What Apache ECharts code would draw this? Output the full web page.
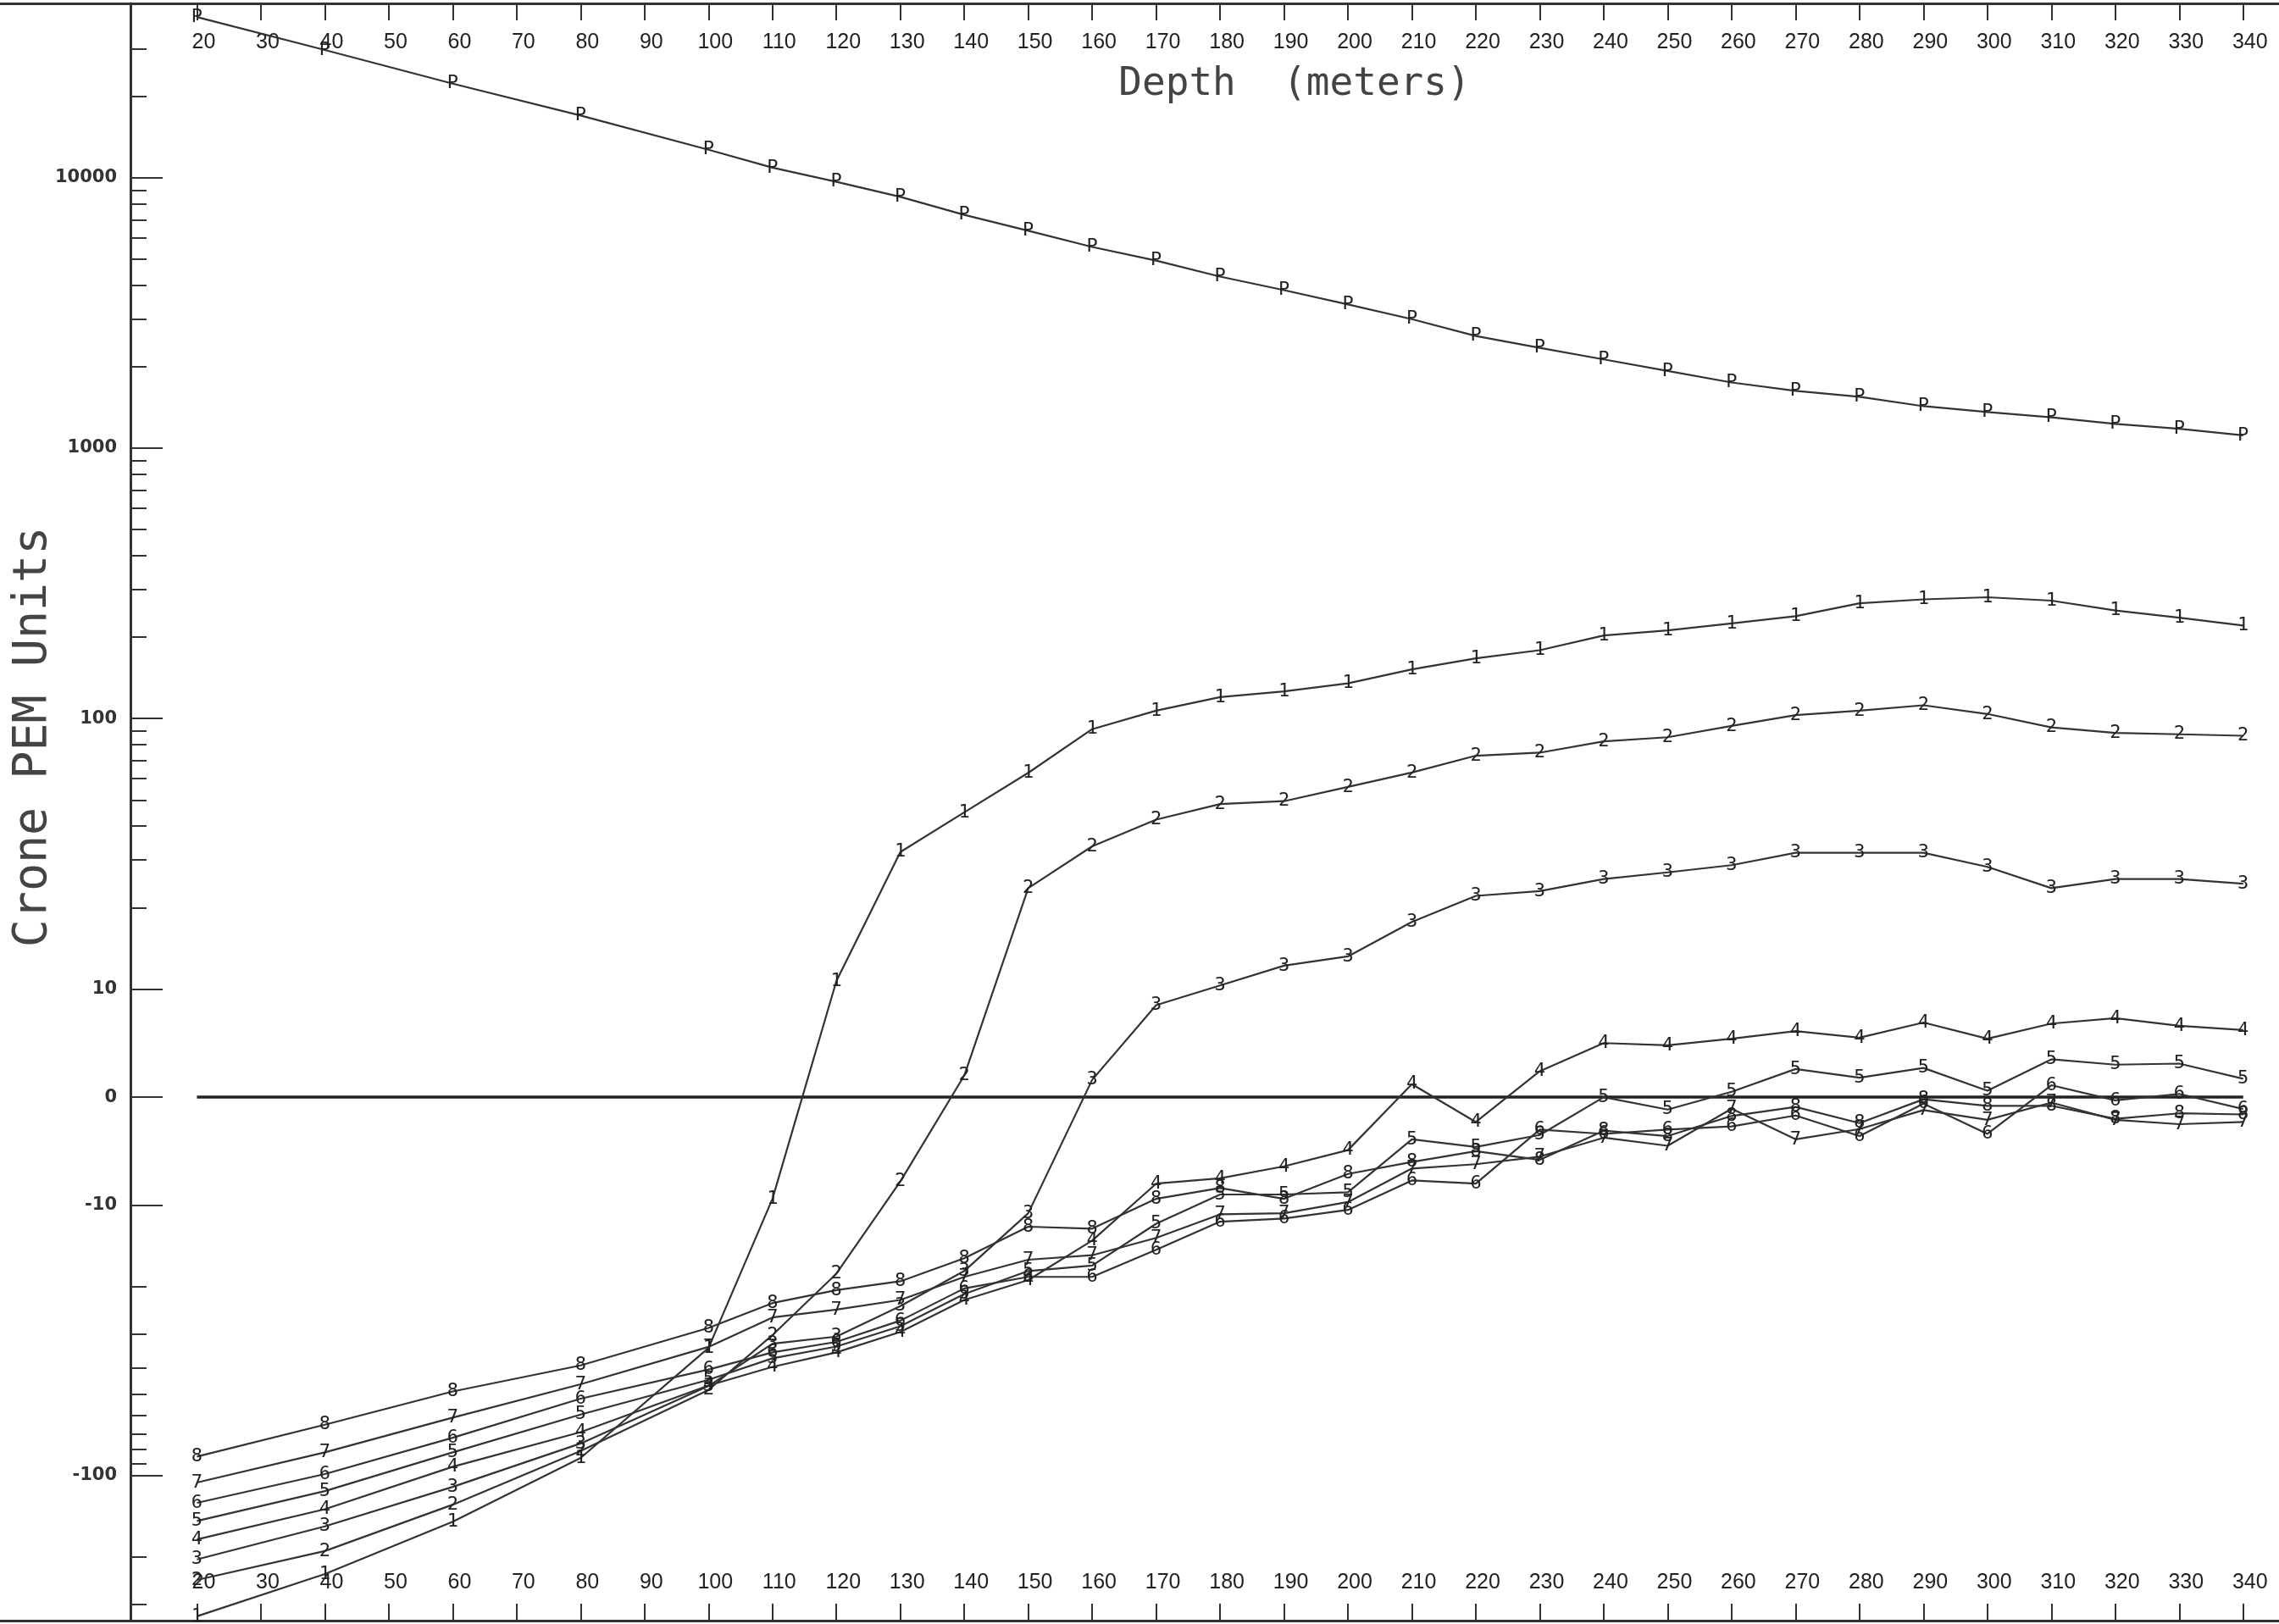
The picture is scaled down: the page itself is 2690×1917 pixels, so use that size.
<!DOCTYPE html>
<html><head><meta charset="utf-8">
<script src="https://cdn.jsdelivr.net/npm/echarts/dist/echarts.min.js"></script>
<style>html,body{margin:0;padding:0;background:#fff}#c{width:2690px;height:1917px}</style>
</head><body><div id="c"></div>
<script>
const depths = [20,40,60,80,100,110,120,130,140,150,160,170,180,190,200,210,220,230,240,250,260,270,280,290,300,310,320,330,340];
const seriesP = [39300,29700,22300,17000,12700,10900,9660,8500,7290,6370,5550,4940,4310,3840,3400,3000,2600,2350,2130,1930,1750,1630,1550,1430,1360,1300,1230,1180,1115];
const series1 = [-331,-231,-148,-86,-33.7,-9.4,10.7,32.1,45,63,91.4,107,120,126,135,152,167,179,203,212,225,239,267,276,281,273,251,236,221];
const series2 = [-243,-190,-128,-81,-48.2,-30.2,-17.9,-7.8,2.0,23.6,33.7,42.3,48.3,49.5,55.9,63.2,72.9,74.8,82.4,85.3,93.9,103,107,112,104,92.8,88.5,87.5,86.4];
const series3 = [-204,-154,-110,-76,-46.6,-32.5,-30.6,-23.6,-17.5,-10.7,1.6,8.5,10.3,12.2,13.2,17.7,22.1,23.0,25.5,27.0,28.7,31.9,31.9,31.9,28.3,23.6,25.5,25.5,24.5];
const series4 = [-172,-133,-92.7,-69,-46.4,-39.6,-35,-29.4,-22.4,-18.9,-13.5,-8.0,-7.5,-6.4,-4.9,1.2,-2.3,2.4,5.0,4.8,5.4,6.1,5.5,6.9,5.4,6.8,7.3,6.6,6.2];
const series5 = [-147,-114,-82,-59.4,-44.2,-36.8,-33.3,-28,-21.3,-17.5,-16.7,-11.7,-9.0,-9.0,-8.8,-3.9,-4.6,-3.5,0.0,-1.15,0.5,2.6,1.8,2.7,0.6,3.5,3.0,3.1,1.7];
const series6 = [-126,-98.6,-72.4,-51.9,-40.5,-35,-32,-26.7,-20.3,-18.4,-18.4,-14.6,-11.5,-11.2,-10.4,-7.7,-8.0,-3.0,-3.4,-3.0,-2.7,-1.7,-3.6,-0.6,-3.4,1.1,-0.3,0.3,-1.1];
const series7 = [-106,-82,-61,-45.9,-33.4,-26,-24.3,-22.4,-18.4,-15.9,-15.3,-13.2,-10.8,-10.7,-9.7,-6.6,-6.2,-5.5,-3.75,-4.5,-1.07,-3.9,-2.95,-1.2,-2.1,-0.5,-2.1,-2.5,-2.3];
const series8 = [-85,-64.8,-48.8,-39.1,-28.4,-23,-20.6,-19.1,-15.7,-12.0,-12.2,-9.4,-8.4,-9.4,-7.1,-6.0,-5.0,-5.8,-3.1,-3.6,-1.74,-0.9,-2.4,-0.2,-0.8,-0.8,-2.0,-1.5,-1.6];
const markers = ['P','1','2','3','4','5','6','7','8'];
const xTicks = [20,30,40,50,60,70,80,90,100,110,120,130,140,150,160,170,180,190,200,210,220,230,240,250,260,270,280,290,300,310,320,330,340];
const yTickValues = [10000,1000,100,10,0,-10,-100];
const yTickLabels = ['10000','1000','100','10','0','-10','-100'];
const yMinorValues = [30000,20000,9000,8000,7000,6000,5000,4000,3000,2000,900,800,700,600,500,400,300,200,90,80,70,60,50,40,30,20,-20,-30,-40,-50,-60,-70,-80,-90,-200,-300];
const zeroLineValue = 0;
const xTitle = 'Depth  (meters)';
const yTitle = 'Crone PEM Units';

// symmetric-log scale: log decades beyond |10|, linear inside
const LIN = 0.4;
function tr(v){ const a = Math.abs(v); if (a < 10) return v / 10 * LIN; return Math.sign(v) * (Math.log10(a) - 1 + LIN); }

const allSeries = [seriesP, series1, series2, series3, series4, series5, series6, series7, series8];
const ink = '#333';
const chart = echarts.init(document.getElementById('c'), null, {renderer: 'canvas'});
const yMajor = yTickValues.map(tr);
const xAxisBase = (pos, margin) => ({
  type: 'value', position: pos, min: -10.8, max: 345.6,
  axisLine: {show: true, onZero: false, lineStyle: {color: ink, width: 3}},
  axisTick: {show: true, inside: true, length: 20, customValues: xTicks, lineStyle: {color: ink, width: 2}},
  axisLabel: {show: true, inside: true, margin: margin, customValues: xTicks, padding: [0, 0, 0, 16],
    fontFamily: 'Liberation Sans', fontSize: 25, color: '#222'},
  splitLine: {show: false}
});
const option = {
  animation: false,
  backgroundColor: '#fff',
  grid: {left: 0, right: 0, top: 4, bottom: 4},
  xAxis: [xAxisBase('bottom', 32), xAxisBase('top', 34)],
  yAxis: [
    {type: 'value', position: 'left', offset: -154, min: -1.936, max: 4.045,
      axisLine: {show: true, onZero: false, lineStyle: {color: ink, width: 3}},
      axisTick: {show: true, inside: true, length: 38, customValues: yMajor, lineStyle: {color: ink, width: 2}},
      axisLabel: {show: true, margin: 16, customValues: yMajor,
        formatter: v => { const i = yMajor.findIndex(m => Math.abs(m - v) < 1e-6); return i >= 0 ? yTickLabels[i] : ''; },
        fontFamily: 'DejaVu Sans', fontWeight: 'bold', fontSize: 21, color: ink},
      splitLine: {show: false}},
    {type: 'value', position: 'left', offset: -154, min: -1.936, max: 4.045,
      axisLine: {show: false, onZero: false},
      axisTick: {show: true, inside: true, length: 19, customValues: yMinorValues.map(tr), lineStyle: {color: ink, width: 2}},
      axisLabel: {show: false}, splitLine: {show: false}}
  ],
  graphic: [
    {type: 'text', x: 1528, y: 100, style: {text: xTitle, align: 'center', verticalAlign: 'middle',
      font: 'normal 46px "DejaVu Sans Mono"', fill: '#444'}},
    {type: 'text', x: 40, y: 870, rotation: Math.PI / 2, style: {text: yTitle, align: 'center', verticalAlign: 'middle',
      font: 'normal 55px "DejaVu Sans Mono"', fill: '#444'}}
  ],
  series: [
    {type: 'line', name: 'zero', data: [[depths[0], tr(zeroLineValue)], [depths[depths.length - 1], tr(zeroLineValue)]],
      symbol: 'none', lineStyle: {color: '#222', width: 3.5}, silent: true, z: 1}
  ].concat(allSeries.map((vals, k) => ({
    type: 'line', name: markers[k],
    data: depths.map((d, i) => [d, tr(vals[i])]),
    symbol: 'circle', symbolSize: 1, itemStyle: {color: 'rgba(0,0,0,0)'},
    lineStyle: {color: '#333', width: 2.2},
    label: {show: true, position: 'inside', formatter: markers[k], color: '#222',
      fontFamily: 'DejaVu Sans Mono', fontSize: 22},
    silent: true, z: 2
  })))
};
chart.setOption(option);
</script>
</body></html>
